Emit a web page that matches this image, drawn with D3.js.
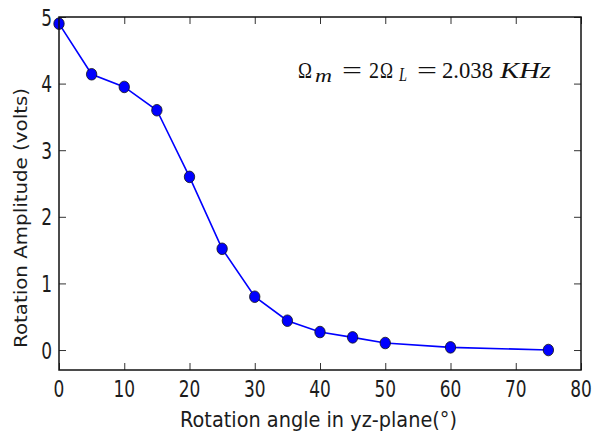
<!DOCTYPE html>
<html>
<head>
<meta charset="utf-8">
<script src="https://cdn.jsdelivr.net/npm/d3@7"></script>
<style>
  html, body { margin: 0; padding: 0; background: #fff; }
  svg { display: block; }
</style>
</head>
<body>
<svg id="chart" width="592" height="443"></svg>
<script>
// Rotation amplitude vs. rotation angle in the yz-plane
const angles     = [0, 5, 10, 15, 20, 25, 30, 35, 40, 45, 50, 60, 75];
const amplitudes = [4.9, 4.14, 3.95, 3.6, 2.6, 1.52, 0.8, 0.44, 0.27, 0.19, 0.105, 0.04, 0.0];
const xTicks = [0, 10, 20, 30, 40, 50, 60, 70, 80];
const yTicks = [0, 1, 2, 3, 4, 5];

const W = 592, H = 443;
const m = { left: 59, right: 11, top: 17, bottom: 73 };
const pw = W - m.left - m.right, ph = H - m.top - m.bottom;

const svg = d3.select("#chart");
const g = svg.append("g").attr("transform", `translate(${m.left},${m.top})`);

const x = d3.scaleLinear().domain([0, 80]).range([0, pw]);
const y = d3.scaleLinear().domain([-0.3, 5]).range([ph, 0]);

const sx = 0.74;        // horizontal squeeze of the lettering
const tickFont = 23;
const ink = "#1c1c1c";

// inward ticks on all four sides
const tickLen = 7;
const axB = d3.axisBottom(x).tickValues(xTicks).tickSize(-tickLen).tickFormat("");
const axT = d3.axisTop(x).tickValues(xTicks).tickSize(-tickLen).tickFormat("");
const axL = d3.axisLeft(y).tickValues(yTicks).tickSize(-tickLen).tickFormat("");
const axR = d3.axisRight(y).tickValues(yTicks).tickSize(-tickLen).tickFormat("");
[[axB, `translate(0,${ph})`], [axT, "translate(0,0)"], [axL, "translate(0,0)"], [axR, `translate(${pw},0)`]]
  .forEach(([ax, tr]) => {
    const a = g.append("g").attr("transform", tr).call(ax);
    a.select(".domain").remove();
    a.selectAll(".tick line").attr("stroke", "#333").attr("stroke-width", 1);
  });

// tick labels
xTicks.forEach(v => {
  g.append("text")
    .attr("transform", `translate(${x(v)},${ph + 27}) scale(${sx},1)`)
    .attr("text-anchor", "middle")
    .attr("font-family", "DejaVu Sans")
    .attr("font-size", tickFont)
    .attr("fill", ink)
    .text(v);
});
yTicks.forEach(v => {
  g.append("text")
    .attr("transform", `translate(-7,${y(v) + 8.5}) scale(${sx},1)`)
    .attr("text-anchor", "end")
    .attr("font-family", "DejaVu Sans")
    .attr("font-size", tickFont)
    .attr("fill", ink)
    .text(v);
});

// data line and markers
const line = d3.line().x((d, i) => x(angles[i])).y(d => y(d));
g.append("path")
  .datum(amplitudes)
  .attr("d", line)
  .attr("fill", "none")
  .attr("stroke", "#0000ff")
  .attr("stroke-width", 1.6);

g.selectAll("ellipse.pt")
  .data(amplitudes)
  .join("ellipse")
  .attr("class", "pt")
  .attr("cx", (d, i) => x(angles[i]))
  .attr("cy", d => y(d))
  .attr("rx", 5.2)
  .attr("ry", 5.8)
  .attr("fill", "#0000ff")
  .attr("stroke", "#111")
  .attr("stroke-width", 0.8);

// frame
g.append("rect")
  .attr("width", pw).attr("height", ph)
  .attr("fill", "none")
  .attr("stroke", "#111")
  .attr("stroke-width", 1.5);

// axis titles
svg.append("text")
  .attr("x", 180).attr("y", 427)
  .attr("textLength", 277).attr("lengthAdjust", "spacingAndGlyphs")
  .attr("font-family", "DejaVu Sans")
  .attr("font-size", 22)
  .attr("fill", ink)
  .text("Rotation angle in yz-plane(°)");

svg.append("text")
  .attr("transform", "translate(27,348) rotate(-90)")
  .attr("textLength", 260).attr("lengthAdjust", "spacingAndGlyphs")
  .attr("font-family", "DejaVu Sans")
  .attr("font-size", 18)
  .attr("fill", ink)
  .text("Rotation Amplitude (volts)");

// annotation: Ω_m = 2Ω_L = 2.038 KHz, set piece by piece
const ann = svg.append("g")
  .attr("font-family", "Liberation Serif")
  .attr("font-size", 24)
  .attr("fill", "#111");
const piece = (xp, yp, s, len, opts = {}) => {
  const t = ann.append("text").attr("x", xp).attr("y", yp)
    .attr("textLength", len).attr("lengthAdjust", "spacingAndGlyphs")
    .text(s);
  if (opts.italic) t.attr("font-style", "italic");
  if (opts.size) t.attr("font-size", opts.size);
  return t;
};
piece(298, 78, "Ω", 14);
piece(315, 82, "m", 17, { italic: true, size: 19 });
piece(342, 78, "=", 20);
piece(369, 78, "2", 10);
piece(380, 78, "Ω", 13);
piece(399, 81, "L", 8, { italic: true, size: 18 });
piece(417, 78, "=", 20);
piece(442, 78, "2.038", 51);
piece(500, 78, "KHz", 51, { italic: true, size: 23 });
</script>
</body>
</html>
